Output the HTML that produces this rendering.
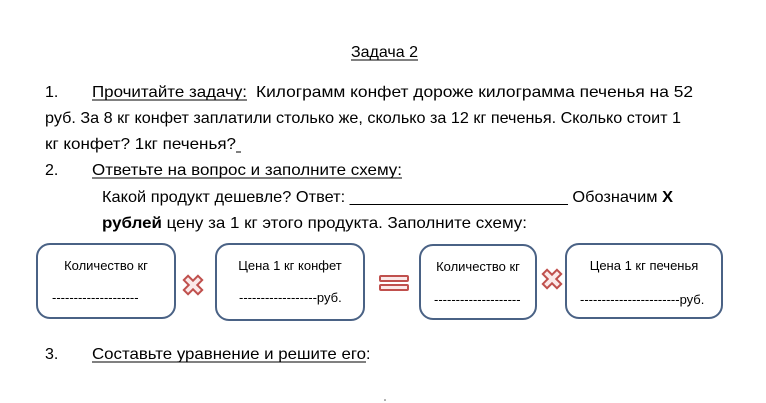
<!DOCTYPE html>
<html><head><meta charset="utf-8"><style>
html,body{margin:0;padding:0;background:#fff;}
svg{display:block;}
text{font-family:"Liberation Sans",sans-serif;fill:#000;}
</style></head><body>
<svg width="766" height="403" viewBox="0 0 766 403" xmlns="http://www.w3.org/2000/svg">
<g font-size="16">
<text x="351" y="57" textLength="67" lengthAdjust="spacingAndGlyphs">Задача 2</text>
<line x1="351" y1="60" x2="418" y2="60" stroke="#000" stroke-width="1"/>

<text x="45" y="97">1.</text>
<text x="92" y="97" textLength="155" lengthAdjust="spacingAndGlyphs">Прочитайте задачу:</text>
<line x1="92" y1="100" x2="247" y2="100" stroke="#000"/>
<text x="256" y="97" textLength="437" lengthAdjust="spacingAndGlyphs">Килограмм конфет  дороже килограмма печенья на 52</text>
<text x="45" y="123" textLength="636" lengthAdjust="spacingAndGlyphs">руб. За 8 кг конфет заплатили столько же, сколько за 12 кг печенья. Сколько стоит 1</text>
<text x="45" y="149" textLength="191" lengthAdjust="spacingAndGlyphs">кг конфет? 1кг печенья?</text>
<line x1="236" y1="152" x2="241" y2="152" stroke="#000"/>

<text x="45" y="175">2.</text>
<text x="92" y="175" textLength="310" lengthAdjust="spacingAndGlyphs">Ответьте на вопрос и заполните схему:</text>
<line x1="92" y1="178" x2="402" y2="178" stroke="#000"/>
<text x="102" y="202" textLength="571" lengthAdjust="spacingAndGlyphs">Какой продукт дешевле? Ответ: ________________________ Обозначим <tspan font-weight="bold">Х</tspan></text>
<text x="102" y="228" textLength="425" lengthAdjust="spacingAndGlyphs"><tspan font-weight="bold">рублей</tspan> цену за 1 кг этого продукта. Заполните схему:</text>

<text x="45" y="359">3.</text>
<text x="92" y="359" textLength="274" lengthAdjust="spacingAndGlyphs">Составьте уравнение и решите его</text>
<line x1="92" y1="362" x2="366" y2="362" stroke="#000"/>
<text x="366" y="359">:</text>
</g>

<g fill="#fff" stroke="#4a6285" stroke-width="2">
<rect x="37" y="244" width="138" height="74" rx="13"/>
<rect x="216" y="244" width="148" height="76" rx="13"/>
<rect x="420" y="245" width="116" height="74" rx="13"/>
<rect x="566" y="244" width="156" height="74" rx="13"/>
</g>
<g font-size="13">
<text x="106" y="270" text-anchor="middle">Количество кг</text>
<text x="52" y="302">--------------------</text>
<text x="290" y="270" text-anchor="middle">Цена 1 кг конфет</text>
<text x="239" y="302">------------------руб.</text>
<text x="478" y="271" text-anchor="middle">Количество кг</text>
<text x="434" y="304">--------------------</text>
<text x="644" y="270" text-anchor="middle">Цена 1 кг печенья</text>
<text x="580" y="304">-----------------------руб.</text>
</g>

<g fill="#fbe9e9" stroke="#c0504d" stroke-width="2">
<path transform="translate(193,285) rotate(45)" d="M-3,-10 h6 v7 h7 v6 h-7 v7 h-6 v-7 h-7 v-6 h7 z"/>
<path transform="translate(552,279) rotate(45)" d="M-3,-10 h6 v7 h7 v6 h-7 v7 h-6 v-7 h-7 v-6 h7 z"/>
<rect x="380" y="276" width="28" height="5" rx="1"/>
<rect x="380" y="285" width="28" height="5" rx="1"/>
</g>
<circle cx="385" cy="400" r="0.8" fill="#555"/>
</svg>
</body></html>
